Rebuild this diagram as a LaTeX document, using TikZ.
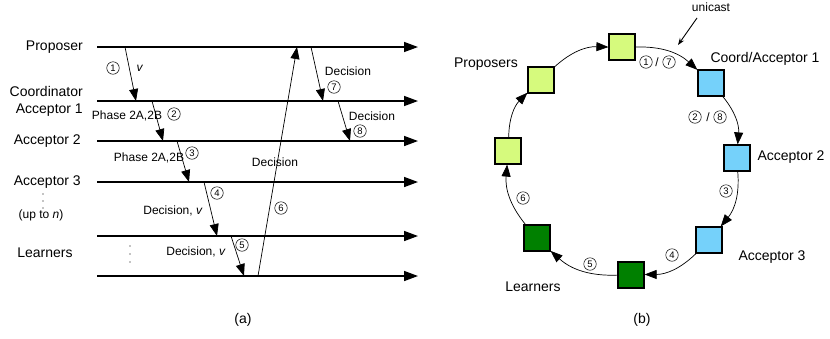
\documentclass[tikz,border=0pt]{standalone}
\usepackage{fontspec}
\setmainfont{Liberation Sans}
\usetikzlibrary{arrows.meta,positioning}

\definecolor{propgreen}{RGB}{214,250,125}
\definecolor{accblue}{RGB}{117,209,250}
\definecolor{learngreen}{RGB}{0,128,0}

\tikzset{
  timeline/.style={line width=1.5pt, -{Triangle[length=14pt,width=10pt]}},
  msg/.style={line width=0.7pt, -{Triangle[length=12pt,width=9pt]}},
  role/.style={font=\fontsize{14}{17}\selectfont, inner sep=0pt},
  lbl/.style={font=\fontsize{12}{14}\selectfont, inner sep=0pt},
  num/.style={circle, draw, line width=0.5pt, minimum size=12.5pt, inner sep=0pt,
    font=\fontsize{9.5}{10}\selectfont},
  box/.style={draw, line width=1.2pt, minimum size=26pt, inner sep=0pt},
}

\begin{document}
\begin{tikzpicture}[x=1pt, y=-1pt]

    \useasboundingbox (0,0) rectangle (830,338);

    % 1. 左图 (a)：时间线
    \foreach \name/\y in {pro/47, acc1/101, acc2/141, acc3/182, lrn/236, bot/276} {
        \coordinate (\name-s) at (97,\y);
        \coordinate (\name-e) at (418,\y);
        \draw[timeline] (\name-s) -- (\name-e);
    }

    % 2. 角色名称
    \node[role, anchor=east] (tProposer) at (83,47) {Proposer};
    \node[role, anchor=east, align=right] (tCoord) at (83,101) {Coordinator\\Acceptor 1};
    \node[role, anchor=east] (tAcc2) at (81,141) {Acceptor 2};
    \node[role, anchor=east] (tAcc3) at (81,182) {Acceptor 3};
    \node[lbl] (tUpto) at (41,215) {(up to \textit{n})};
    \node[role] (tLearners) at (45,253) {Learners};
    \foreach \i/\x/\y in {1/43/194, 2/43/201, 3/43/208, 4/130/246, 5/130/254, 6/130/262}
        \fill (\x,\y) circle[radius=0.6pt] coordinate (dot\i);

    % 3. 消息箭头
    \foreach \i/\xa/\ya/\xb/\yb in {1/125/47/136/101, 2/152/101/163/141, 3/177/141/189/182,
        4/204/182/217/236, 5/231/236/244/276, 6/258/276/297/47, 7/311/47/323/101, 8/338/101/350/141} {
        \coordinate (m\i-a) at (\xa,\ya);
        \coordinate (m\i-b) at (\xb,\yb);
        \draw[msg] (m\i-a) -- (m\i-b);
    }

    % 4. 消息标签
    \node[num] (n1) at (113,68) {1};
    \node[lbl] (v1) at (140,68) {\textit{v}};
    \node[lbl] (ph1) at (127,116) {Phase 2A,2B};
    \node[num] (n2) at (174,114) {2};
    \node[lbl] (ph2) at (149,158) {Phase 2A,2B};
    \node[num] (n3) at (192,153) {3};
    \node[lbl] (dc4) at (173,211) {Decision, \textit{v}};
    \node[num] (n4) at (217,193) {4};
    \node[lbl] (dc5) at (196,252) {Decision, \textit{v}};
    \node[num] (n5) at (242,245) {5};
    \node[lbl] (dc6) at (275,162) {Decision};
    \node[num] (n6) at (281,208) {6};
    \node[lbl] (dc7) at (348,71) {Decision};
    \node[num] (n7) at (334,87) {7};
    \node[lbl] (dc8) at (372,116) {Decision};
    \node[num] (n8) at (360,131) {8};
    \node[role] (capa) at (243,320) {(a)};

    % 5. 右图 (b)：环形结构
    \node[box, fill=propgreen] (p1) at (622,47) {};
    \node[box, fill=propgreen] (p2) at (541,80) {};
    \node[box, fill=propgreen] (p3) at (508,151) {};
    \node[box, fill=accblue] (c1) at (711,83) {};
    \node[box, fill=accblue] (a2) at (737,158) {};
    \node[box, fill=accblue] (a3) at (709,240) {};
    \node[box, fill=learngreen] (l1) at (631,275) {};
    \node[box, fill=learngreen] (l2) at (537,238) {};

    \draw[msg] (p1) to[bend left=22] (c1);
    \draw[msg] (c1) to[bend left=22] (a2);
    \draw[msg] (a2) to[bend left=22] (a3);
    \draw[msg] (a3) to[bend left=22] (l1);
    \draw[msg] (l1) to[bend left=22] (l2);
    \draw[msg] (l2) to[bend left=22] (p3);
    \draw[msg] (p3) to[bend left=22] (p2);
    \draw[msg] (p2) to[bend left=22] (p1);

    % 6. 右图标签
    \node[num] (r1a) at (646,62) {1};
    \node[lbl] (r1s) at (657,62) {/};
    \node[num] (r1b) at (669,62) {7};
    \node[num] (r2a) at (695,117) {2};
    \node[lbl] (r2s) at (708,117) {/};
    \node[num] (r2b) at (720,117) {8};
    \node[num] (r3) at (726,191) {3};
    \node[num] (r4) at (672,255) {4};
    \node[num] (r5) at (590,264) {5};
    \node[num] (r6) at (523,198) {6};
    \node[role] (lProposers) at (486,64) {Proposers};
    \node[role] (lCoord) at (765,59) {Coord/Acceptor 1};
    \node[role] (lAcc2) at (791,157) {Acceptor 2};
    \node[role] (lAcc3) at (772,257) {Acceptor 3};
    \node[role] (lLearners) at (533,287) {Learners};
    \node[lbl] (uni) at (711,7) {unicast};
    \coordinate (uniTail) at (697,18);
    \coordinate (uniTip) at (678,45);
    \draw[line width=0.9pt, -{Stealth[length=7pt,width=5pt]}] (uniTail) -- (uniTip);
    \node[role] (capb) at (642,320) {(b)};

\end{tikzpicture}
\end{document}
